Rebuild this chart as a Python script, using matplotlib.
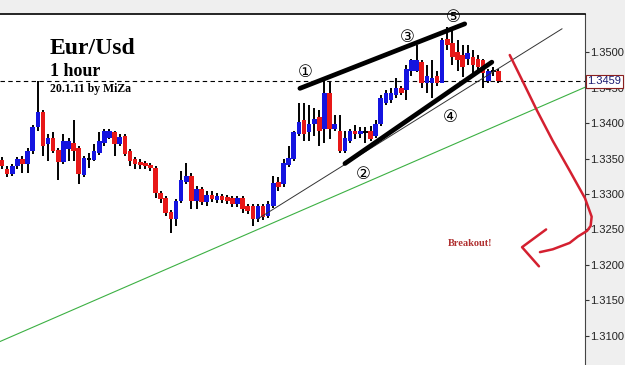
import matplotlib.pyplot as plt
import numpy as np

# Eur/Usd 1 hour candles (open, high, low, close)
opens = [1.3348, 1.3335, 1.3328, 1.3340, 1.3350, 1.3343, 1.3360, 1.3394, 1.3416, 1.3370,
         1.3379, 1.3362, 1.3345, 1.3364, 1.3372, 1.3365, 1.3327, 1.3349, 1.3348, 1.3358,
         1.3372, 1.3379, 1.3387, 1.3371, 1.3382, 1.3361, 1.3350, 1.3345, 1.3344, 1.3341,
         1.3337, 1.3301, 1.3294, 1.3274, 1.3265, 1.3290, 1.3317, 1.3326, 1.3290, 1.3307,
         1.3289, 1.3299, 1.3291, 1.3297, 1.3296, 1.3294, 1.3286, 1.3294, 1.3283, 1.3283,
         1.3265, 1.3283, 1.3269, 1.3283, 1.3317, 1.3314, 1.3341, 1.3350, 1.3385, 1.3404,
         1.3387, 1.3399, 1.3408, 1.3392, 1.3442, 1.3392, 1.3389, 1.3361, 1.3375, 1.3389,
         1.3385, 1.3388, 1.3389, 1.3382, 1.3399, 1.3429, 1.3432, 1.3439, 1.3449, 1.3446,
         1.3474, 1.3474, 1.3486, 1.3457, 1.3457, 1.3467, 1.3457, 1.3518, 1.3513, 1.3500,
         1.3496, 1.3491, 1.3493, 1.3490, 1.3489, 1.3460, 1.3473, 1.3474]
highs = [1.3352, 1.3340, 1.3343, 1.3352, 1.3354, 1.3365, 1.3398, 1.3460, 1.3418, 1.3385,
         1.3387, 1.3365, 1.3385, 1.3379, 1.3405, 1.3368, 1.3354, 1.3358, 1.3371, 1.3388,
         1.3392, 1.3392, 1.3389, 1.3384, 1.3385, 1.3364, 1.3352, 1.3350, 1.3347, 1.3344,
         1.3340, 1.3304, 1.3297, 1.3277, 1.3293, 1.3333, 1.3344, 1.3330, 1.3311, 1.3310,
         1.3304, 1.3304, 1.3301, 1.3300, 1.3299, 1.3297, 1.3297, 1.3297, 1.3286, 1.3286,
         1.3286, 1.3286, 1.3290, 1.3326, 1.3324, 1.3350, 1.3368, 1.3389, 1.3429, 1.3429,
         1.3425, 1.3421, 1.3418, 1.3460, 1.3460, 1.3411, 1.3411, 1.3389, 1.3392, 1.3398,
         1.3394, 1.3394, 1.3396, 1.3404, 1.3439, 1.3446, 1.3450, 1.3463, 1.3453, 1.3482,
         1.3491, 1.3510, 1.3489, 1.3482, 1.3489, 1.3474, 1.3520, 1.3535, 1.3530, 1.3517,
         1.3510, 1.3510, 1.3503, 1.3496, 1.3491, 1.3477, 1.3479, 1.3477]
lows = [1.3335, 1.3324, 1.3326, 1.3335, 1.3330, 1.3330, 1.3357, 1.3389, 1.3354, 1.3347,
        1.3358, 1.3320, 1.3343, 1.3347, 1.3347, 1.3314, 1.3324, 1.3337, 1.3347, 1.3355,
        1.3368, 1.3377, 1.3354, 1.3368, 1.3354, 1.3340, 1.3335, 1.3335, 1.3335, 1.3333,
        1.3294, 1.3287, 1.3269, 1.3245, 1.3255, 1.3287, 1.3314, 1.3279, 1.3279, 1.3284,
        1.3283, 1.3289, 1.3287, 1.3287, 1.3286, 1.3282, 1.3282, 1.3273, 1.3272, 1.3255,
        1.3260, 1.3263, 1.3266, 1.3280, 1.3304, 1.3310, 1.3338, 1.3347, 1.3382, 1.3375,
        1.3375, 1.3382, 1.3368, 1.3372, 1.3378, 1.3389, 1.3358, 1.3358, 1.3372, 1.3378,
        1.3379, 1.3372, 1.3375, 1.3379, 1.3396, 1.3425, 1.3429, 1.3436, 1.3439, 1.3432,
        1.3467, 1.3472, 1.3449, 1.3443, 1.3436, 1.3453, 1.3456, 1.3503, 1.3482, 1.3474,
        1.3465, 1.3482, 1.3467, 1.3474, 1.3450, 1.3456, 1.3467, 1.3457]
closes = [1.3340, 1.3328, 1.3340, 1.3350, 1.3343, 1.3361, 1.3395, 1.3416, 1.3368, 1.3379,
          1.3361, 1.3345, 1.3375, 1.3375, 1.3361, 1.3328, 1.3351, 1.3349, 1.3361, 1.3375,
          1.3389, 1.3389, 1.3371, 1.3381, 1.3357, 1.3347, 1.3343, 1.3341, 1.3340, 1.3337,
          1.3301, 1.3293, 1.3273, 1.3265, 1.3290, 1.3320, 1.3326, 1.3290, 1.3307, 1.3289,
          1.3299, 1.3293, 1.3297, 1.3291, 1.3290, 1.3286, 1.3294, 1.3279, 1.3276, 1.3265,
          1.3283, 1.3267, 1.3286, 1.3316, 1.3310, 1.3344, 1.3351, 1.3387, 1.3401, 1.3385,
          1.3399, 1.3406, 1.3389, 1.3443, 1.3392, 1.3399, 1.3361, 1.3379, 1.3389, 1.3385,
          1.3389, 1.3388, 1.3378, 1.3399, 1.3435, 1.3442, 1.3443, 1.3450, 1.3443, 1.3477,
          1.3489, 1.3489, 1.3457, 1.3467, 1.3463, 1.3457, 1.3517, 1.3510, 1.3493, 1.3489,
          1.3479, 1.3499, 1.3482, 1.3479, 1.3470, 1.3474, 1.3473, 1.3460]

last_price = 1.3459
price_ticks = [1.3100, 1.3150, 1.3200, 1.3250, 1.3300, 1.3350, 1.3400, 1.3450, 1.3500]

# hand drawn lines (candle index, price)
upper_line = ([58.2, 90.4], [1.3449, 1.3540])
lower_line = ([67.0, 95.7], [1.3343, 1.3486])
thin_line = ([50.0, 109.4], [1.3265, 1.3533])
green_line = ([-1.0, 115.0], [1.3090, 1.3454])
red_curve = ([99.2, 102.0, 104.5, 107.6, 110.9, 113.9, 115.2, 115.0, 114.3, 112.5, 110.9, 107.6, 105.1],
             [1.3496, 1.3455, 1.3418, 1.3375, 1.3333, 1.3294, 1.3268, 1.3255, 1.3248, 1.3240,
              1.3231, 1.3222, 1.3218])
red_head = ([106.3, 101.6, 104.9], [1.3250, 1.3225, 1.3198])
wave_labels = ['①', '②', '③', '④', '⑤']
wave_x = [59.2, 70.5, 79.1, 87.5, 88.1]
wave_y = [1.3472, 1.3328, 1.3521, 1.3409, 1.3550]

fig = plt.figure(figsize=(6.25, 3.65), dpi=100, facecolor='#efefef')
ax = fig.add_axes([0, -0.02, 585 / 625, 1 - 14 / 365 + 0.02])
ax.set_facecolor('white')

o = np.array(opens)
c = np.array(closes)
x = np.arange(len(o))
ax.vlines(x, lows, highs, color='black', lw=1.4, zorder=2)
up = c > o
dn = c < o
ax.bar(x[up], (c - o)[up], bottom=o[up], width=0.9, color='#1414e0', zorder=3)
ax.bar(x[dn], (o - c)[dn], bottom=c[dn], width=0.9, color='#e81818', zorder=3)
flat = c == o
ax.hlines(o[flat], x[flat] - 0.45, x[flat] + 0.45, color='black', lw=1.4, zorder=3)

ax.axhline(last_price, color='black', lw=0.8, dashes=(4, 3), zorder=1)
ax.plot(*green_line, color='#3cb043', lw=0.8, zorder=1)
ax.plot(*thin_line, color='#333333', lw=0.7, zorder=4)
ax.plot(*upper_line, color='black', lw=3.4, solid_capstyle='round', zorder=5)
ax.plot(*lower_line, color='black', lw=3.4, solid_capstyle='round', zorder=5)
ax.plot(*red_curve, color='#d42030', lw=1.8, clip_on=False, zorder=6,
        solid_joinstyle='round', solid_capstyle='round')
ax.plot(*red_head, color='#d42030', lw=1.8, clip_on=False, zorder=6,
        solid_joinstyle='round', solid_capstyle='round')

for lab, wx, wy in zip(wave_labels, wave_x, wave_y):
    ax.text(wx, wy, lab, fontsize=12, ha='center', va='center', zorder=6)

ax.text(91.4, 1.3230, 'Breakout!', family='Liberation Serif', weight='bold',
        fontsize=7.5, color='#b03030', ha='center', va='center')

fig.text(50 / 625, 1 - 54 / 365, 'Eur/Usd', family='Liberation Serif', weight='bold', fontsize=17)
fig.text(50 / 625, 1 - 76 / 365, '1 hour', family='Liberation Serif', weight='bold', fontsize=13)
fig.text(50 / 625, 1 - 92 / 365, '20.1.11 by MiZa', family='Liberation Serif', weight='bold', fontsize=8.5)

ax.set_xlim(-0.39, 113.9)
ax.set_ylim(1.30485, 1.35539)
ax.yaxis.tick_right()
ax.set_yticks(price_ticks)
ax.set_yticklabels([f'{p:.4f}' for p in price_ticks], family='Liberation Sans', fontsize=8, color='#222222')
ax.tick_params(axis='y', length=3, pad=1, width=0.8, color='#333333')
ax.set_xticks([])
for s in ['left', 'bottom']:
    ax.spines[s].set_visible(False)
ax.spines['top'].set_linewidth(1.2)
ax.spines['right'].set_color('#444444')

ax.text(1.004, last_price, '1.3459', transform=ax.get_yaxis_transform(), fontsize=8,
        family='Liberation Sans', color='#1a1a70', va='center', ha='left', zorder=10,
        bbox=dict(boxstyle='square,pad=0.15', fc='white', ec='#8b2020', lw=0.8))

plt.savefig('out.png', dpi=100, facecolor=fig.get_facecolor())
